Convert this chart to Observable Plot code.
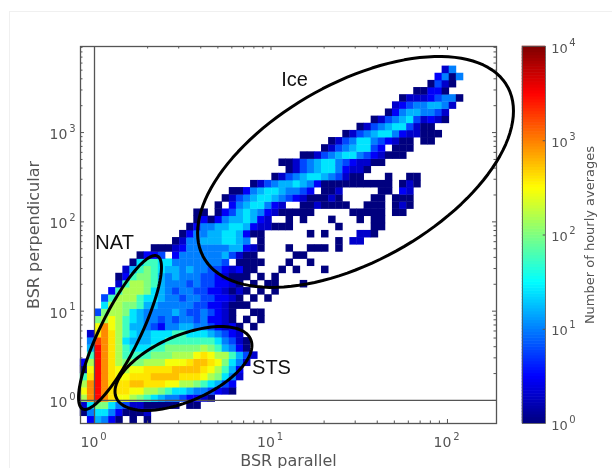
<!DOCTYPE html>
<html>
<head>
<meta charset="utf-8">
<style>
html,body{margin:0;padding:0;background:#fff;}
#wrap{position:relative;width:612px;height:468px;overflow:hidden;filter:blur(0.55px);}
#wrap svg{position:absolute;left:0;top:0;background:transparent;overflow:visible;}
#sheet{position:absolute;left:9px;top:11px;right:-4px;bottom:-4px;border:1.5px solid #f0f0f0;}
</style>
<script src="https://cdn.jsdelivr.net/npm/d3@7"></script>
<script src="https://cdn.jsdelivr.net/npm/@observablehq/plot@0.6"></script>
</head>
<body>
<div id="wrap"><div id="sheet"></div></div>
<script>
// ---- data: histogram ----
// level character -> number of hourly averages
const levelCounts = {1:1,2:2,3:3,4:6,5:10,6:16,7:25,8:56,9:100,a:150,b:290,c:400,o:550,d:900,e:1800,f:3000};
// first column of every row (row 0 is the lowest)
const rowStart = [0,0,0,0,0,0,0,0,0,0,0,0,0,0,0,0,0,0,0,0,0,0,0,0,10,13,14,15,16,16,19,20,21,24,27,29,28,31,34,35,37,39,41,43,44,45,47,49,50,51];
const rowLevels = [
".36531.1.1",
"1577531112",
"27997542211111.11",
"adfdcbba98765543321",
"bdfdcccbbaa98776554321",
"adfdcccoocccbbaa987643",
"8cfdcbbcccoooocccba9752",
"1bfdcbabbccccoooocba863",
"3afdca999aaabbbcoocb9752",
".8fdca8888999aaabcbaa8642",
".6fdca87778899999a986531",
".5edca766677888888875421",
".2cdca87667778877765432",
"..bdba86654355665543231.1",
"..9aba8765545455453321.1.1",
"..49aa9765555654454321..11",
"...7aa998665555544332111",
"...48aaa877655455443321.1.1",
"....38aaa976545544332121.1.1",
".....28aa98655545443321.1.11...1",
".....1389986565554432111.1.1",
"......268987665655443231" + "1...1.1...1",
".......17887755555554.1111...1..1",
"........1334.355555564211.....11",
"1112355555566321...1..111.1",
"12556667765.1..........1.22",
"135566776311......1.1....221",
"135566776322111......1....11",
"13135667632..1.1...1...1.11",
"11.13467653211111.....11111.11",
"1.35677532..1121111..111.121",
"12456776543211121....11.111",
"113567765543.112.....11.32",
"12456676531111111111.121",
"1245677654211...1..11",
"124567753221",
"112456775432211",
"112456775432111",
"124567743.111",
"124577543211.11",
"12456775322111",
"12456774211",
"12456742321",
"135665542",
"234556652",
"122234551",
"11331",
"1421",
"3515",
"25"
];
const xTicks = [1,10,100];
const yTicks = [1,10,100,1000];
const barTicks = [1,10,100,1000,10000];
const xLabel = "BSR parallel";
const yLabel = "BSR perpendicular";
const barLabel = "Number of hourly averages";
// ellipses in decades: centre log x, centre log y, half-width, half-height, correlation
const ellipseNames = ["Ice","NAT","STS"];
const ellipseCx = [1.479,0.1445,0.504];
const ellipseCy = [2.559,0.761,0.358];
const ellipseRx = [0.895,0.235,0.388];
const ellipseRy = [1.293,0.862,0.470];
const ellipseCorr = [0.528,0.845,0.547];
const labelX = [13.6,1.3,10.07];
const labelY = [3930,59,2.34];

// ---- scales ----
const xDomain = [0.833,189.6], yDomain = [0.552,9200];
const binX = 0.0402, binY = 0.08;
const lx0 = Math.log10(xDomain[0]), ly0 = Math.log10(yDomain[0]);
const jet = ["#00007f","#0000ff","#007fff","#00ffff","#7fff7f","#ffff00","#ff7f00","#ff0000","#7f0000"];
const jetFn = d3.piecewise(d3.interpolateRgb, jet);
const ink = "#555", tickFont = "DejaVu Sans";

const cells = [];
rowLevels.forEach((s,j)=>{[...s].forEach((c,i)=>{
  if(c===".") return;
  const k = rowStart[j]+i;
  cells.push({x1:10**(lx0+k*binX),x2:10**(lx0+(k+1)*binX),y1:10**(ly0+j*binY),y2:10**(ly0+(j+1)*binY),n:levelCounts[c]});
});});

const ellipsePts = [];
ellipseNames.forEach((name,e)=>{
  const q = Math.sqrt(1-ellipseCorr[e]**2);
  for(let a=0;a<=360;a+=3){
    const t=a*Math.PI/180;
    ellipsePts.push({name,
      x:10**(ellipseCx[e]+ellipseRx[e]*Math.cos(t)),
      y:10**(ellipseCy[e]+ellipseRy[e]*(ellipseCorr[e]*Math.cos(t)+q*Math.sin(t)))});
  }
});

const minor = ds => ds.slice(0,-1).flatMap(d=>[2,3,4,5,6,7,8,9].map(m=>m*d));
const xMinor = minor([1,10,100,1000]).filter(v=>v<=xDomain[1]);
const yMinor = minor([1,10,100,1000,10000]).filter(v=>v<=yDomain[1]);
const up = (v,px,dec)=>v*10**(px/dec);

const main = Plot.plot({
  width:612,height:468,
  marginLeft:80,marginRight:116,marginTop:46,marginBottom:45,
  style:{background:"transparent"},
  x:{type:"log",domain:xDomain,axis:null},
  y:{type:"log",domain:yDomain,axis:null},
  color:{type:"log",domain:[1,10000],interpolate:t=>jetFn(t)},
  marks:[
    Plot.rect(cells,{x1:"x1",x2:"x2",y1:"y1",y2:"y2",fill:"n",inset:-0.2}),
    Plot.ruleX([1],{stroke:ink,strokeWidth:1.3}),
    Plot.ruleY([1],{stroke:ink,strokeWidth:1.3}),
    Plot.ruleX(xTicks,{y1:yDomain[0],y2:up(yDomain[0],4,89.3),stroke:ink}),
    Plot.ruleX(xTicks,{y1:yDomain[1],y2:up(yDomain[1],-4,89.3),stroke:ink}),
    Plot.ruleX(xMinor,{y1:yDomain[0],y2:up(yDomain[0],2.5,89.3),stroke:ink}),
    Plot.ruleX(xMinor,{y1:yDomain[1],y2:up(yDomain[1],-2.5,89.3),stroke:ink}),
    Plot.ruleY(yTicks,{x1:xDomain[0],x2:up(xDomain[0],4,176.5),stroke:ink}),
    Plot.ruleY(yTicks,{x1:xDomain[1],x2:up(xDomain[1],-4,176.5),stroke:ink}),
    Plot.ruleY(yMinor,{x1:xDomain[0],x2:up(xDomain[0],2.5,176.5),stroke:ink}),
    Plot.ruleY(yMinor,{x1:xDomain[1],x2:up(xDomain[1],-2.5,176.5),stroke:ink}),
    Plot.frame({stroke:ink,strokeWidth:1.3}),
    Plot.line(ellipsePts,{x:"x",y:"y",z:"name",stroke:"#000",strokeWidth:3,clip:false}),
    Plot.text(ellipseNames,{x:(d,i)=>labelX[i],y:(d,i)=>labelY[i],text:d=>d,fontFamily:"Liberation Sans",fontSize:20,fill:"#111",textAnchor:"middle",lineAnchor:"middle"}),
    // tick labels
    Plot.text(xTicks,{x:d=>d,y:yDomain[0],text:()=>"10",dx:-5,dy:19,fontFamily:tickFont,fontSize:14,fill:ink,textAnchor:"middle",lineAnchor:"middle"}),
    Plot.text(xTicks,{x:d=>d,y:yDomain[0],text:d=>String(Math.round(Math.log10(d))),dx:9,dy:13,fontFamily:tickFont,fontSize:10,fill:ink,textAnchor:"middle",lineAnchor:"middle"}),
    Plot.text(yTicks,{x:xDomain[0],y:d=>d,text:()=>"10",dx:-22,dy:2,fontFamily:tickFont,fontSize:14,fill:ink,textAnchor:"middle",lineAnchor:"middle"}),
    Plot.text(yTicks,{x:xDomain[0],y:d=>d,text:d=>String(Math.round(Math.log10(d))),dx:-8,dy:-4,fontFamily:tickFont,fontSize:10,fill:ink,textAnchor:"middle",lineAnchor:"middle"}),
    // axis titles
    Plot.text([xLabel],{x:[Math.sqrt(xDomain[0]*xDomain[1])],y:[yDomain[0]],text:d=>d,dy:42,fontFamily:tickFont,fontSize:16,fill:ink,textAnchor:"middle",lineAnchor:"bottom"}),
    Plot.text([yLabel],{x:[xDomain[0]],y:[Math.sqrt(yDomain[0]*yDomain[1])],text:d=>d,dx:-47,rotate:-90,fontFamily:tickFont,fontSize:16,fill:ink,textAnchor:"middle",lineAnchor:"middle"})
  ]
});

// colour bar
const steps = d3.range(128);
const stepV = i=>10**(i*4/128);
const bar = Plot.plot({
  width:612,height:468,
  marginLeft:522,marginRight:67,marginTop:46,marginBottom:45,
  style:{background:"transparent"},
  x:{domain:[0,1],axis:null},
  y:{type:"log",domain:[1,10000],axis:null},
  color:{type:"log",domain:[1,10000],interpolate:t=>jetFn(t)},
  marks:[
    Plot.rect(steps,{x1:0,x2:1,y1:i=>stepV(i),y2:i=>stepV(i+1),fill:i=>10**((i+.5)*4/128),inset:-0.3}),
    Plot.ruleY(barTicks.slice(1,-1),{x1:1,x2:0.9,stroke:ink}),
    Plot.frame({stroke:ink,strokeWidth:0.8}),
    Plot.text(barTicks,{x:1,y:d=>d,text:()=>"10",dx:14,dy:2,fontFamily:tickFont,fontSize:13,fill:ink,textAnchor:"middle",lineAnchor:"middle"}),
    Plot.text(barTicks,{x:1,y:d=>d,text:d=>String(Math.round(Math.log10(d))),dx:27,dy:-4,fontFamily:tickFont,fontSize:10,fill:ink,textAnchor:"middle",lineAnchor:"middle"}),
    Plot.text([barLabel],{x:[1],y:[100],text:d=>d,dx:44,rotate:-90,fontFamily:tickFont,fontSize:13,fill:ink,textAnchor:"middle",lineAnchor:"middle"})
  ]
});
const wrap = document.getElementById("wrap");
wrap.appendChild(main);
wrap.appendChild(bar);
</script>
</body>
</html>
